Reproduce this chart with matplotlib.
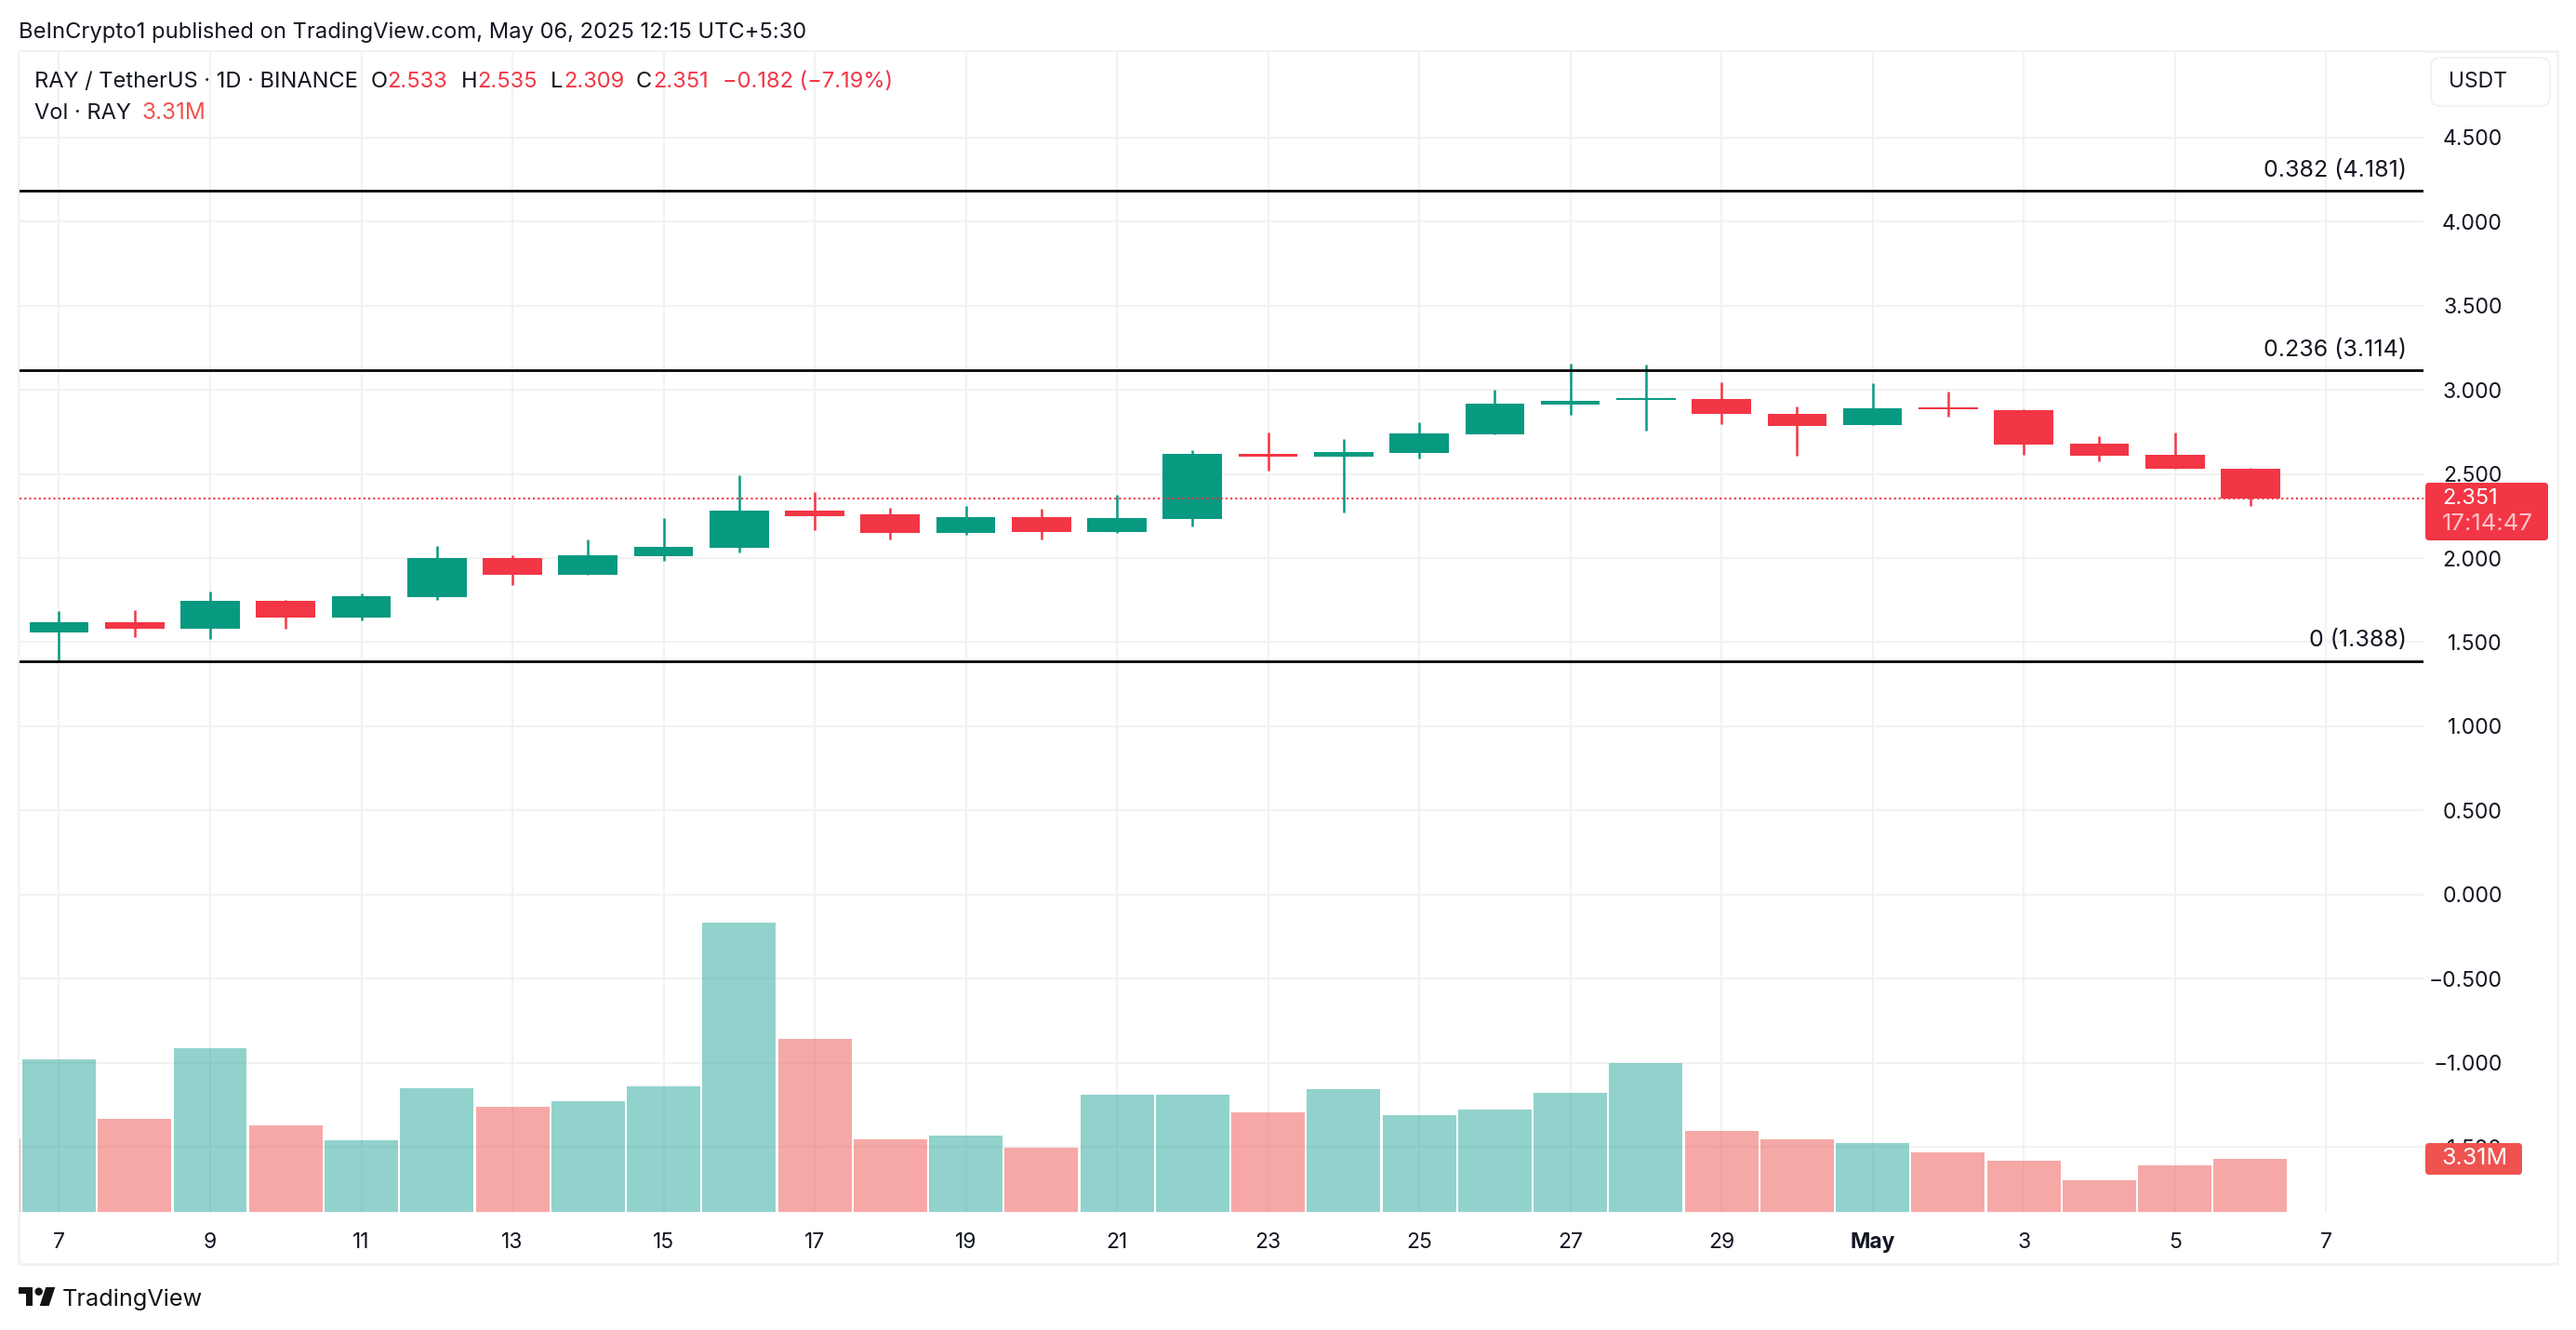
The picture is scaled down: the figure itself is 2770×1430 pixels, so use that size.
import numpy as np
import matplotlib
matplotlib.use('Agg')
import matplotlib.pyplot as plt
from matplotlib.patches import FancyBboxPatch, Polygon, Circle, Rectangle
from matplotlib.ticker import FuncFormatter
from matplotlib.transforms import IdentityTransform

# Daily candles, Apr 7 to May 6
opens = [1.558, 1.619, 1.580, 1.746, 1.646, 1.768, 2.000, 1.901, 2.011, 2.061,
         2.282, 2.260, 2.149, 2.243, 2.155, 2.232, 2.619, 2.602, 2.624, 2.735,
         2.912, 2.939, 2.945, 2.856, 2.790, 2.895, 2.878, 2.680, 2.613, 2.533]
highs = [1.685, 1.691, 1.801, 1.751, 1.790, 2.072, 2.017, 2.110, 2.238, 2.492,
         2.392, 2.298, 2.309, 2.293, 2.376, 2.641, 2.746, 2.707, 2.807, 3.000,
         3.155, 3.149, 3.044, 2.901, 3.039, 2.989, 2.884, 2.724, 2.746, 2.535]
lows = [1.388, 1.530, 1.519, 1.580, 1.630, 1.751, 1.840, 1.901, 1.983, 2.033,
        2.166, 2.110, 2.138, 2.110, 2.149, 2.188, 2.519, 2.271, 2.591, 2.735,
        2.851, 2.757, 2.796, 2.608, 2.790, 2.840, 2.613, 2.575, 2.530, 2.309]
closes = [1.619, 1.580, 1.746, 1.646, 1.773, 2.000, 1.901, 2.017, 2.066, 2.282,
          2.249, 2.149, 2.243, 2.155, 2.238, 2.619, 2.602, 2.630, 2.740, 2.917,
          2.934, 2.950, 2.856, 2.785, 2.890, 2.884, 2.674, 2.608, 2.530, 2.351]

# Volume in millions; prev_volume is the cut off Apr 6 bar
prev_volume = 4.59
volumes = [9.52, 5.81, 10.22, 5.40, 4.47, 7.72, 6.56, 6.91, 7.84, 18.06,
           10.80, 4.53, 4.76, 4.01, 7.32, 7.32, 6.21, 7.67, 6.04, 6.39,
           7.43, 9.29, 5.05, 4.53, 4.30, 3.72, 3.19, 1.97, 2.90, 3.31]

fib_levels = [4.181, 3.114, 1.388]
fib_labels = ['0.382 (4.181)', '0.236 (3.114)', '0 (1.388)']
last_price = 2.351

price_ticks = [4.5, 4.0, 3.5, 3.0, 2.5, 2.0, 1.5, 1.0, 0.5, 0.0, -0.5, -1.0, -1.5]
day_ticks = [0, 2, 4, 6, 8, 10, 12, 14, 16, 18, 20, 22, 24, 26, 28, 30]
day_labels = ['7', '9', '11', '13', '15', '17', '19', '21', '23', '25', '27', '29',
              'May', '3', '5', '7']

W, H = 2770, 1430
GREEN = '#089981'
RED = '#F23645'
VOL_GREEN = '#26a69a'
VOL_RED = '#ef5350'
GRID = '#f2f2f2'
DARK = '#131722'

plt.rcParams['font.family'] = ['Inter', 'DejaVu Sans']

fig = plt.figure(figsize=(W / 100, H / 100), dpi=100, facecolor='white')


def fx(x):
    return x / W


def fy(y):
    return 1 - y / H


def label(x, y, s, color=DARK, size=17, ha='left', **kw):
    fig.text(fx(x), fy(y), s, color=color, fontsize=size, ha=ha, va='center', **kw)


# Pixel box of the plot: x 21-2606, y 56-1304 (volume sits 1 px higher)
rect = [fx(21), fy(1304), fx(2606) - fx(21), fy(56) - fy(1304)]
rect_vol = [fx(21), fy(1303), fx(2606) - fx(21), fy(56) - fy(1303)]

ax = fig.add_axes(rect, zorder=1)
ax_vol = fig.add_axes(rect_vol, zorder=2)
ax_vol.patch.set_visible(False)

x_lim = (-0.523, 31.29)
ax.set_xlim(*x_lim)
ax.set_ylim(-1.890, 5.006)
ax_vol.set_xlim(*x_lim)
ax_vol.set_ylim(0, 72.4)
ax_vol.axis('off')

# Volume
vol_x = np.arange(-1, len(volumes))
vol_vals = [prev_volume] + volumes
vol_colors = [VOL_RED] + [VOL_GREEN if c >= o else VOL_RED for o, c in zip(opens, closes)]
ax_vol.bar(vol_x, vol_vals, width=0.972, color=vol_colors, alpha=0.5, linewidth=0)

# Grid
ax.set_yticks(price_ticks)
ax.set_xticks(day_ticks)
ax.set_xticklabels(day_labels)
ax.grid(True, color=GRID, linewidth=1.5)
ax.set_axisbelow(True)
for s in ax.spines.values():
    s.set_visible(False)
ax.yaxis.tick_right()
ax.yaxis.set_major_formatter(FuncFormatter(lambda v, pos: f'{v:.3f}'.replace('-', '\u2212')))
ax.tick_params(axis='y', length=0, pad=61, labelsize=16.5, labelcolor=DARK)
ax.tick_params(axis='x', length=0, pad=15, labelsize=16.5, labelcolor=DARK)
for t in ax.get_yticklabels():
    t.set_ha('right')
for t in ax.get_xticklabels():
    if t.get_text() == 'May':
        t.set_fontweight('bold')

# Candles
days = np.arange(len(opens))
o = np.array(opens)
c = np.array(closes)
colors = [GREEN if b >= a else RED for a, b in zip(opens, closes)]
ax.vlines(days, lows, highs, colors=colors, linewidth=1.8, zorder=3)
ax.bar(days, np.abs(c - o), bottom=np.minimum(o, c), width=0.784, color=colors, linewidth=0, zorder=4)

# Fib lines
for level, text in zip(fib_levels, fib_labels):
    ax.axhline(level, color='black', linewidth=2, zorder=5)
    ax.annotate(text, xy=(1, level), xycoords=('axes fraction', 'data'), xytext=(-13, 16),
                textcoords='offset points', ha='right', va='center', fontsize=18, color=DARK)

# Last price line
ax.axhline(last_price, color=RED, linewidth=1.5, linestyle=(0, (1, 1.5)), zorder=6)

# Panel frame
fig.add_artist(Rectangle((20, H - 1359), 2730, 1304, fill=False, edgecolor=GRID, linewidth=2,
                         transform=IdentityTransform()))


def tag(x0, y0, x1, y1, color, edge='none', radius=5):
    fig.add_artist(FancyBboxPatch((x0 + radius, H - y1 + radius), x1 - x0 - 2 * radius, y1 - y0 - 2 * radius,
                                  boxstyle=f'round,pad={radius},rounding_size={radius}',
                                  facecolor=color, edgecolor=edge, linewidth=1.5,
                                  transform=IdentityTransform(), zorder=2))


# USDT button
tag(2614, 62, 2742, 114, 'white', edge=GRID, radius=10)
fig.text(fx(2633), fy(88), 'USDT', fontsize=16.5, color=DARK, ha='left', va='center', zorder=3)

# Price and volume tags
tag(2608, 519, 2740, 581, RED, radius=4)
fig.text(fx(2626), fy(536), '2.351', fontsize=17, color='white', ha='left', va='center', zorder=3)
fig.text(fx(2626), fy(563), '17:14:47', fontsize=18.5, color='#fbc3c8', ha='left', va='center', zorder=3)
tag(2608, 1229, 2712, 1263, VOL_RED, radius=4)
fig.text(fx(2625), fy(1246), '3.31M', fontsize=18, color='white', ha='left', va='center', zorder=3)

# Header
label(20, 35, 'BeInCrypto1 published on TradingView.com, May 06, 2025 12:15 UTC+5:30', size=17.1)
label(37, 88, 'RAY / TetherUS \u00b7 1D \u00b7 BINANCE', size=17)
for x, s in [(399, 'O'), (496, 'H'), (592, 'L'), (684, 'C')]:
    label(x, 88, s, size=17)
for x, s in [(416, '2.533'), (513, '2.535'), (606, '2.309'), (702, '2.351'),
             (777, '\u22120.182 (\u22127.19%)')]:
    label(x, 88, s, color=RED, size=17)
label(37, 122, 'Vol \u00b7 RAY', size=17)
label(153, 122, '3.31M', color=VOL_RED, size=17.5)

# Footer logo
logo = '#131313'
for pts in ([(20, 1384), (35, 1384), (35, 1404), (27.5, 1404), (27.5, 1391), (20, 1391)],
            [(49.3, 1384), (59.3, 1384), (52.7, 1404), (42.7, 1404)]):
    fig.add_artist(Polygon([(x, H - y) for x, y in pts], closed=True, facecolor=logo, edgecolor='none',
                           transform=IdentityTransform()))
fig.add_artist(Circle((41.7, H - 1388.7), 4.2, facecolor=logo, edgecolor='none', transform=IdentityTransform()))
label(67, 1397, 'TradingView', color=logo, size=18.2)

fig.savefig('out.png', dpi=100, facecolor='white')
